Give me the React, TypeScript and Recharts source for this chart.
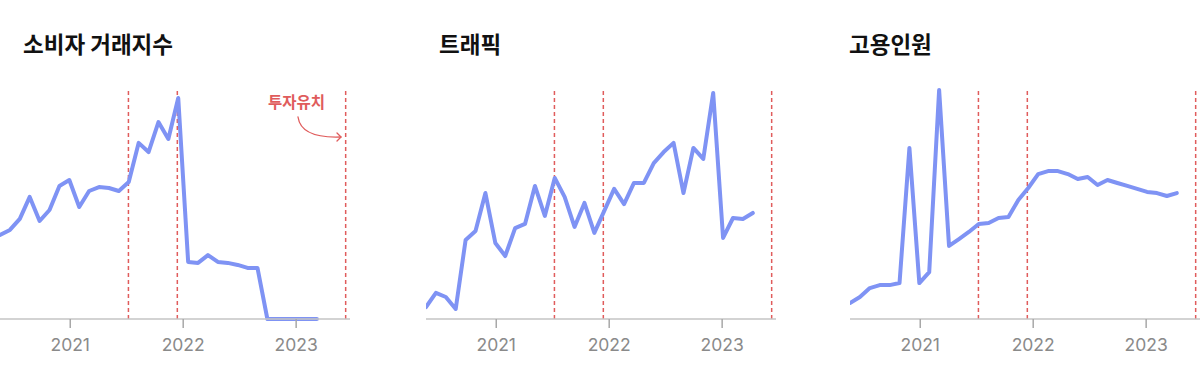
import React from 'react';
import { LineChart, Line, XAxis, YAxis, ReferenceLine } from 'recharts';

// shared period dates (one per observation)
const periods = [
  '2020-05-19', '2020-06-20', '2020-07-22', '2020-08-23', '2020-09-24', '2020-10-26',
  '2020-11-27', '2020-12-29', '2021-01-30', '2021-03-03', '2021-04-04', '2021-05-06',
  '2021-06-07', '2021-07-09', '2021-08-10', '2021-09-11', '2021-10-13', '2021-11-14',
  '2021-12-16', '2022-01-17', '2022-02-18', '2022-03-22', '2022-04-23', '2022-05-25',
  '2022-06-26', '2022-07-28', '2022-08-29', '2022-09-30', '2022-11-01', '2022-12-03',
  '2023-01-04', '2023-02-05', '2023-03-09', '2023-04-10',
];

const consumerIndex = [
  36.7, 38.9, 43.7, 53.3, 42.8, 47.6, 58.1, 60.7, 48.9, 55.9, 57.6, 57.2,
  55.9, 59.8, 76.9, 72.9, 86.0, 78.6, 96.5, 24.9, 24.5, 27.9, 24.9, 24.5,
  23.6, 22.3, 22.3, 0, 0, 0, 0, 0, 0,
];

const traffic = [
  5.2, 11.4, 9.6, 4.4, 34.5, 38.4, 55.0, 33.2, 27.5, 39.7, 41.5, 58.1,
  45.0, 61.6, 53.3, 40.2, 50.7, 37.6, 47.2, 56.8, 50.2, 59.4, 59.4, 68.1,
  72.9, 76.9, 55.0, 74.7, 69.9, 98.7, 35.4, 44.1, 43.7, 46.3,
];

const employees = [
  7.0, 9.6, 13.5, 14.8, 14.8, 15.7, 74.7, 15.7, 20.5, 100, 31.9, 34.9,
  38.0, 41.5, 41.9, 44.1, 44.5, 52.0, 57.2, 63.3, 64.6, 64.6, 63.3, 61.1,
  62.0, 58.5, 60.7, 59.4, 58.1, 56.8, 55.5, 55.0, 53.7, 55.0,
];

const yearTicks = ['2021-01-01', '2022-01-01', '2023-01-01'];
const fundingDates = ['2021-07-08', '2021-12-13', '2023-06-10'];
const domainDates = ['2020-05-19', '2023-06-24'];

const LINE_COLOR = '#7f93f4';
const MARK_COLOR = '#e05c5c';

const ts = (d: string) => new Date(d).getTime();

function buildData(values: number[]) {
  return values.map((v, i) => ({ t: ts(periods[i]), value: v }));
}

interface PanelProps {
  title: string;
  values: number[];
  left: number;
  titleLeft: number;
  children?: React.ReactNode;
}

function Panel({ title, values, left, titleLeft, children }: PanelProps) {
  return (
    <>
      <div
        style={{
          position: 'absolute',
          left: titleLeft,
          top: 28,
          fontFamily: '"Noto Sans CJK KR", sans-serif',
          fontWeight: 700,
          fontSize: 22.5,
          lineHeight: '30px',
          color: '#111',
          whiteSpace: 'nowrap',
        }}
      >
        {title}
      </div>
      <div style={{ position: 'absolute', left, top: 0 }}>
        <LineChart
          width={350}
          height={390}
          data={buildData(values)}
          margin={{ top: 90, right: 0, bottom: 0, left: 0 }}
        >
          <XAxis
            dataKey="t"
            type="number"
            scale="time"
            domain={domainDates.map(ts)}
            ticks={yearTicks.map(ts)}
            tickFormatter={(v: number) => String(new Date(v).getUTCFullYear())}
            height={71}
            tickSize={9}
            tickMargin={11}
            axisLine={{ stroke: '#c4c4c4', strokeWidth: 1.5 }}
            tickLine={{ stroke: '#a8a8a8', strokeWidth: 1.5 }}
            tick={{ fill: '#8a8a8a', fontSize: 17.5, fontFamily: 'Inter, sans-serif' }}
            allowDataOverflow
          />
          <YAxis hide domain={[0, 100]} />
          {fundingDates.map((d) => (
            <ReferenceLine
              key={d}
              x={ts(d)}
              stroke={MARK_COLOR}
              strokeWidth={1.5}
              strokeDasharray="4 3"
            />
          ))}
          <Line
            type="linear"
            dataKey="value"
            stroke={LINE_COLOR}
            strokeWidth={4}
            strokeLinejoin="round"
            strokeLinecap="round"
            dot={false}
            isAnimationActive={false}
          />
        </LineChart>
      </div>
      {children}
    </>
  );
}

export default function App() {
  return (
    <div
      style={{
        position: 'fixed',
        left: 0,
        top: 0,
        width: 1200,
        height: 390,
        background: '#fff',
        overflow: 'hidden',
      }}
    >
      <Panel title="소비자 거래지수" values={consumerIndex} left={0} titleLeft={23}>
        <div
          style={{
            position: 'absolute',
            left: 268,
            top: 90,
            fontFamily: '"Noto Sans CJK KR", sans-serif',
            fontWeight: 700,
            fontSize: 15.5,
            lineHeight: '22px',
            color: MARK_COLOR,
            whiteSpace: 'nowrap',
          }}
        >
          투자유치
        </div>
        <svg
          width={60}
          height={40}
          style={{ position: 'absolute', left: 290, top: 110, overflow: 'visible' }}
        >
          <path
            d="M8,7 C10,21 25,28 51,27"
            fill="none"
            stroke={MARK_COLOR}
            strokeWidth={1.3}
            strokeLinecap="round"
          />
          <path
            d="M47,23 L51,27 L47,31"
            fill="none"
            stroke={MARK_COLOR}
            strokeWidth={1.3}
            strokeLinecap="round"
            strokeLinejoin="round"
          />
        </svg>
      </Panel>
      <Panel title="트래픽" values={traffic} left={426} titleLeft={439} />
      <Panel title="고용인원" values={employees} left={850} titleLeft={849} />
    </div>
  );
}
